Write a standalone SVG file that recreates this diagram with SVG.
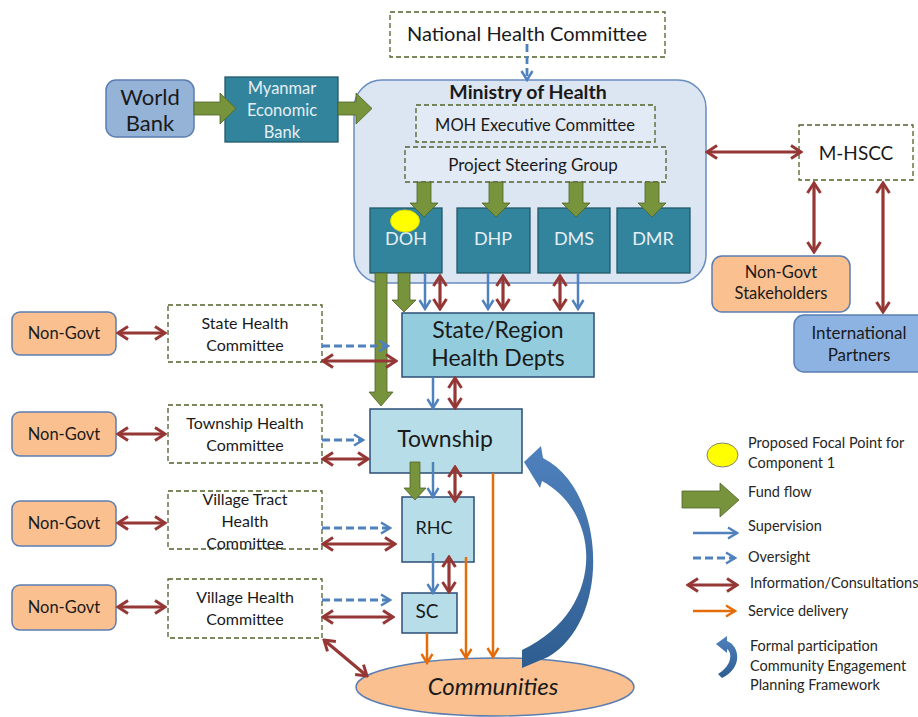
<svg xmlns="http://www.w3.org/2000/svg" width="918" height="717" viewBox="0 0 918 717">
<defs>
<marker id="hb" markerUnits="userSpaceOnUse" markerWidth="14" markerHeight="14" viewBox="0 0 14 14" refX="12" refY="7" orient="auto-start-reverse"><path d="M3,1.5 L12,7 L3,12.5" fill="none" stroke="#4f81bd" stroke-width="2.4"/></marker>
<marker id="hr" markerUnits="userSpaceOnUse" markerWidth="14" markerHeight="16" viewBox="0 0 14 16" refX="12" refY="8" orient="auto-start-reverse"><path d="M2,1.5 L12,8 L2,14.5" fill="none" stroke="#953735" stroke-width="3"/></marker>
<marker id="ho" markerUnits="userSpaceOnUse" markerWidth="14" markerHeight="14" viewBox="0 0 14 14" refX="12" refY="7" orient="auto-start-reverse"><path d="M3,1.5 L12,7 L3,12.5" fill="none" stroke="#e46c0a" stroke-width="2.4"/></marker>
<linearGradient id="cg" x1="0" y1="0" x2="0" y2="1"><stop offset="0" stop-color="#4f81bd"/><stop offset="1" stop-color="#2e5d90"/></linearGradient>
</defs>
<style>
.t{font-family:Lato,"Liberation Sans",sans-serif;fill:#1a1a1a;text-anchor:middle}
.lg{font-family:Lato,"Liberation Sans",sans-serif;fill:#262626;font-size:14.5px}
.w{fill:#e6eef7}
.dash{fill:#fff;stroke:#4f6228;stroke-width:1.3;stroke-dasharray:5 3}
.dashin{fill:#e2eaf5;stroke:#4f6228;stroke-width:1.3;stroke-dasharray:5 3}
.teal{fill:#31849b;stroke:#215968;stroke-width:1.3}
.lb{fill:#b7dee8;stroke:#2c4d75;stroke-width:1.5}
.ng{fill:#fac090;stroke:#5b7db1;stroke-width:1.5}
.fund{fill:#77933c;stroke:#4f6228;stroke-width:0.8}
.sup{stroke:#4f81bd;stroke-width:2.5;fill:none;marker-end:url(#hb)}
.ov{stroke:#4f81bd;stroke-width:2.8;fill:none;stroke-dasharray:8 4;marker-end:url(#hb)}
.info{stroke:#953735;stroke-width:3.2;fill:none;marker-start:url(#hr);marker-end:url(#hr)}
.svc{stroke:#e46c0a;stroke-width:2.5;fill:none;marker-end:url(#ho)}
</style>
<rect width="918" height="717" fill="#fff"/>

<g id="nhc"><rect class="dash" x="390" y="12" width="275" height="45"/><text class="t" x="527" y="41" font-size="20">National Health Committee</text></g>
<g id="moh"><rect x="354" y="80" width="352" height="203" rx="28" fill="#dce6f2" stroke="#6a8cc0" stroke-width="1.5"/><text class="t" x="528" y="99" font-size="19.5" font-weight="bold">Ministry of Health</text></g>
<g id="exec"><rect class="dashin" x="416" y="105" width="239" height="37"/><text class="t" x="535" y="131" font-size="16.5">MOH Executive Committee</text></g>
<g id="psg"><rect class="dashin" x="405" y="147" width="261" height="35"/><text class="t" x="533" y="171" font-size="17">Project Steering Group</text></g>
<g id="doh"><rect class="teal" x="370" y="208" width="72" height="65"/><text class="t w" x="406" y="245" font-size="18">DOH</text></g>
<g id="dhp"><rect class="teal" x="457" y="208" width="73" height="65"/><text class="t w" x="493" y="245" font-size="18">DHP</text></g>
<g id="dms"><rect class="teal" x="538" y="208" width="72" height="65"/><text class="t w" x="574" y="245" font-size="18">DMS</text></g>
<g id="dmr"><rect class="teal" x="617" y="208" width="73" height="65"/><text class="t w" x="653" y="245" font-size="18">DMR</text></g>
<g id="wb"><rect x="106" y="80" width="88" height="57" rx="10" fill="#95b3d7" stroke="#5b7db1" stroke-width="1.5"/><text class="t" x="150" y="105" font-size="22">World</text><text class="t" x="150" y="131" font-size="22">Bank</text></g>
<g id="meb"><rect class="teal" x="225" y="77" width="113" height="65"/><text class="t w" x="282" y="94" font-size="16.5">Myanmar</text><text class="t w" x="282" y="116" font-size="16.5">Economic</text><text class="t w" x="282" y="138" font-size="16.5">Bank</text></g>
<g id="mhscc"><rect class="dash" x="799" y="125" width="114" height="55"/><text class="t" x="856" y="160" font-size="19">M-HSCC</text></g>
<g id="ngs"><rect class="ng" x="712" y="256" width="138" height="56" rx="10"/><text class="t" x="781" y="278" font-size="16.5">Non-Govt</text><text class="t" x="781" y="299" font-size="16.5">Stakeholders</text></g>
<g id="ip"><rect x="794" y="315" width="135" height="57" rx="10" fill="#8db3e2" stroke="#5b7db1" stroke-width="1.5"/><text class="t" x="859" y="339" font-size="17">International</text><text class="t" x="859" y="361" font-size="17">Partners</text></g>

<g id="ng1"><rect class="ng" x="12" y="312" width="104" height="43" rx="8"/><text class="t" x="64" y="339" font-size="16.5">Non-Govt</text></g>
<g id="ng2"><rect class="ng" x="12" y="412" width="104" height="44" rx="8"/><text class="t" x="64" y="440" font-size="16.5">Non-Govt</text></g>
<g id="ng3"><rect class="ng" x="12" y="501" width="104" height="45" rx="8"/><text class="t" x="64" y="529" font-size="16.5">Non-Govt</text></g>
<g id="ng4"><rect class="ng" x="12" y="585" width="104" height="45" rx="8"/><text class="t" x="64" y="613" font-size="16.5">Non-Govt</text></g>

<g id="shc"><rect class="dash" x="168" y="305" width="154" height="57"/><text class="t" x="245" y="329" font-size="16">State Health</text><text class="t" x="245" y="351" font-size="16">Committee</text></g>
<g id="thc"><rect class="dash" x="168" y="405" width="154" height="58"/><text class="t" x="245" y="429" font-size="16">Township Health</text><text class="t" x="245" y="451" font-size="16">Committee</text></g>
<g id="vthc"><rect class="dash" x="168" y="491" width="154" height="58"/><text class="t" x="245" y="505" font-size="16">Village Tract</text><text class="t" x="245" y="527" font-size="16">Health</text><text class="t" x="245" y="549" font-size="16">Committee</text></g>
<g id="vhc"><rect class="dash" x="168" y="579" width="154" height="59"/><text class="t" x="245" y="603" font-size="16">Village Health</text><text class="t" x="245" y="625" font-size="16">Committee</text></g>

<g id="srhd"><rect x="402" y="313" width="192" height="64" fill="#93cddd" stroke="#2c4d75" stroke-width="1.5"/><text class="t" x="498" y="338" font-size="23">State/Region</text><text class="t" x="498" y="366" font-size="23">Health Depts</text></g>
<g id="township"><rect class="lb" x="370" y="409" width="152" height="64"/><text class="t" x="445" y="447" font-size="23">Township</text></g>
<g id="rhc"><rect class="lb" x="402" y="497" width="72" height="65"/><text class="t" x="434" y="534" font-size="18">RHC</text></g>
<g id="sc"><rect class="lb" x="402" y="593" width="55" height="40"/><text class="t" x="427" y="618" font-size="19">SC</text></g>
<g id="communities"><ellipse cx="495" cy="687" rx="139" ry="29" fill="#fac090" stroke="#5b7db1" stroke-width="1.5"/><text class="t" x="493" y="695" font-size="24" font-style="italic">Communities</text></g>

<g id="connectors">
<path class="fund" d="M194,102 H220 V93 L236,108.5 L220,124 V115 H194 Z"/>
<path class="fund" d="M338,102 H356 V93 L372,108.5 L356,124 V115 H338 Z"/>
<path class="fund" d="M417,182 V203 H410 L424,217 L438,203 H431 V182 Z"/>
<path class="fund" d="M489,182 V203 H482 L496,217 L510,203 H503 V182 Z"/>
<path class="fund" d="M569,182 V203 H562 L576,217 L590,203 H583 V182 Z"/>
<path class="fund" d="M645,182 V203 H638 L652,217 L666,203 H659 V182 Z"/>
<path class="fund" d="M375,273 V392 H369 L381,406 L393,392 H387 V273 Z"/>
<path class="fund" d="M398,273 V300 H392 L404,312 L416,300 H410 V273 Z"/>
<path class="fund" d="M410,462 V488 H404 L415,500 L426,488 H420 V462 Z"/>

<path class="ov" d="M527,44 V80"/>
<path class="sup" d="M425,273 V309"/>
<path class="sup" d="M488,273 V309"/>
<path class="sup" d="M578,273 V309"/>
<path class="info" d="M440,276 V309"/>
<path class="info" d="M503,276 V309"/>
<path class="info" d="M560,276 V309"/>
<path class="sup" d="M433,377 V408"/>
<path class="info" d="M455,378 V408"/>
<path class="sup" d="M433,462 V497"/>
<path class="info" d="M455,467 V501"/>
<path class="sup" d="M433,553 V593"/>
<path class="info" d="M449,557 V592"/>
<path class="svc" d="M493,473 V657"/>
<path class="svc" d="M466,557 V658"/>
<path class="svc" d="M427,633 V663"/>

<path class="info" d="M707,152 H801"/>
<path class="info" d="M814,183 V252"/>
<path class="info" d="M883,183 V312"/>

<path class="info" d="M118,333 H165"/>
<path class="info" d="M118,434 H165"/>
<path class="info" d="M118,523 H165"/>
<path class="info" d="M118,607 H165"/>

<path class="ov" d="M322,346 H388"/>
<path class="info" d="M323,361 H396"/>
<path class="ov" d="M322,440 H363"/>
<path class="info" d="M323,459 H368"/>
<path class="ov" d="M322,528 H390"/>
<path class="info" d="M323,544 H395"/>
<path class="ov" d="M322,600 H390"/>
<path class="info" d="M323,617 H393"/>
<path class="info" d="M324,640 L367,676"/>

<path d="M524,462 L541,446 L543,458 C606,490 612,620 548,657 L522,668 L522,650 C604,612 604,515 542,481 L540,488 Z" fill="url(#cg)"/>
</g>

<ellipse cx="405" cy="221" rx="14.5" ry="11" fill="#ffff00" stroke="#d9d900" stroke-width="0.8"/>

<g id="legend">
<ellipse cx="722.5" cy="455" rx="15.5" ry="12" fill="#ffff00" stroke="#7f7f7f" stroke-width="1"/>
<text class="lg" x="748" y="448">Proposed Focal Point for</text>
<text class="lg" x="748" y="468">Component 1</text>
<path class="fund" d="M682,491 H720 V483 L739,500 L720,517 V508 H682 Z"/>
<text class="lg" x="748" y="497">Fund flow</text>
<path class="sup" d="M693,533 H737"/>
<text class="lg" x="748" y="531">Supervision</text>
<path class="ov" d="M693,558 H735"/>
<text class="lg" x="748" y="562">Oversight</text>
<path class="info" d="M688,585 H737"/>
<text class="lg" x="750" y="588">Information/Consultations</text>
<path class="svc" d="M693,611 H735"/>
<text class="lg" x="748" y="616">Service delivery</text>
<path d="M716,644 L727,636 L727,641 C740,646 743,668 722,678 L718,674 C733,665 732,652 727,649 L727,653 Z" fill="url(#cg)"/>
<text class="lg" x="750" y="651">Formal participation</text>
<text class="lg" x="750" y="671">Community Engagement</text>
<text class="lg" x="750" y="690">Planning Framework</text>
</g>
</svg>
